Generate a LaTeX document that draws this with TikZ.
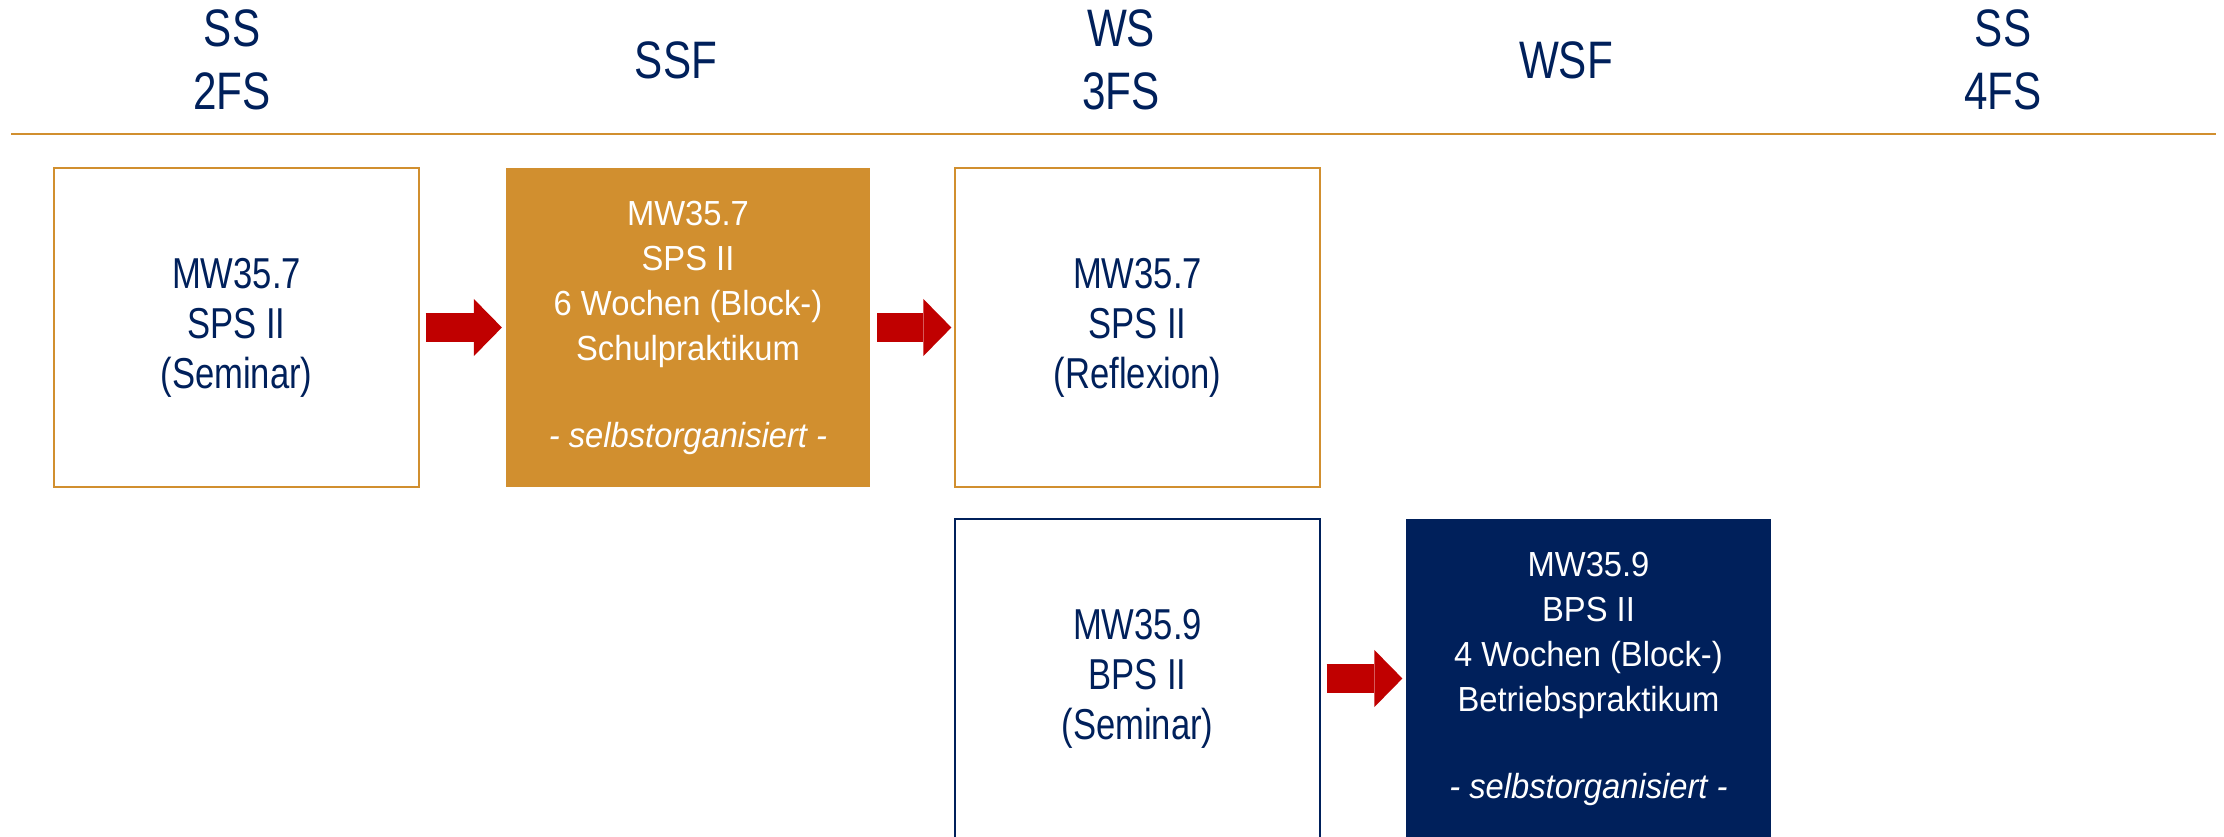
\documentclass[tikz,border=0pt]{standalone}
\usepackage{fontspec}
\setmainfont{Liberation Sans}[FakeStretch=0.94]
\newfontfamily\narrowsans{Liberation Sans}[FakeStretch=0.8]
\usetikzlibrary{arrows.meta}
\definecolor{unigold}{HTML}{D18F2F}
\definecolor{uninavy}{HTML}{00205B}
\definecolor{arrowred}{HTML}{C00000}
\begin{document}
\begin{tikzpicture}[x=0.01cm, y=-0.01cm,
    every node/.style={outer sep=0pt, inner sep=0pt, align=center},
    head/.style={text=uninavy, font=\narrowsans\fontsize{15}{17.9}\selectfont},
    box/.style={minimum width=3.64cm, minimum height=3.19cm, line width=0.6pt},
    goldbox/.style={box, draw=unigold, text=uninavy, font=\narrowsans\fontsize{12.3}{14.2}\selectfont},
    goldfill/.style={box, fill=unigold, text=white, font=\fontsize{9.9}{12.8}\selectfont},
    navybox/.style={box, draw=uninavy, text=uninavy, font=\narrowsans\fontsize{12.3}{14.2}\selectfont},
    navyfill/.style={box, fill=uninavy, text=white, font=\fontsize{9.9}{12.8}\selectfont},
    arrow/.style={line width=0.29cm, color=arrowred, -{Triangle[length=0.28cm, width=0.57cm, line width=0pt]}, shorten <=0.07cm, shorten >=0.04cm}]
    \useasboundingbox (0,0) rectangle (2224,836);
    \clip (0,0) rectangle (2224,836);

    % semester heads
    \node[head](h1) at (232,60) {SS\\2FS};
    \node[head](h2) at (676,60) {SSF};
    \node[head](h3) at (1121,60) {WS\\3FS};
    \node[head](h4) at (1566,60) {WSF};
    \node[head](h5) at (2003,60) {SS\\4FS};
    \draw[unigold, line width=0.85pt] (11,134) -- (2216,134);

    % SPS II
    \node[goldbox](sps1) at (236.5,327.5) {MW35.7\\SPS II\\(Seminar)};
    \node[goldfill](sps2) at (688,327.5) {MW35.7\\SPS II\\6 Wochen (Block-)\\Schulpraktikum\\[11.9pt]\textit{- selbstorganisiert -}};
    \node[goldbox](sps3) at (1137.5,327.5) {MW35.7\\SPS II\\(Reflexion)};

    % BPS II
    \node[navybox](bps1) at (1137.5,678.5) {MW35.9\\BPS II\\(Seminar)};
    \node[navyfill](bps2) at (1588.5,678.5) {MW35.9\\BPS II\\4 Wochen (Block-)\\Betriebspraktikum\\[11.9pt]\textit{- selbstorganisiert -}};

    \draw[arrow] (sps1) -- (sps2);
    \draw[arrow] (sps2) -- (sps3);
    \draw[arrow] (bps1) -- (bps2);
\end{tikzpicture}
\end{document}
